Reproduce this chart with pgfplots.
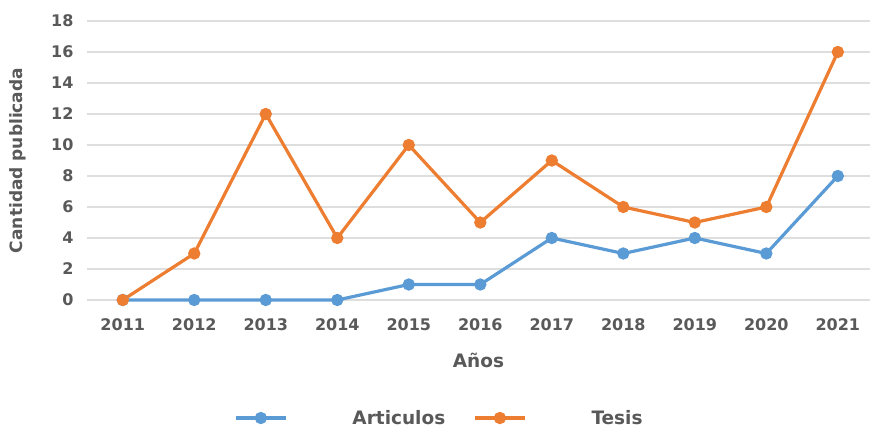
\documentclass[border=0pt]{standalone}
\usepackage{fontspec}
\setmainfont{DejaVu Sans}
\usepackage{pgfplots}
\pgfplotsset{compat=1.18}
\definecolor{tcol}{HTML}{595959}
\definecolor{cblue}{HTML}{5B9BD5}
\definecolor{corange}{HTML}{ED7D31}
\begin{document}
\begin{tikzpicture}
\path[use as bounding box] (0,0) rectangle (870pt,428pt);
\begin{axis}[
  at={(87pt,128pt)}, anchor=south west,
  scale only axis, width=783pt, height=279pt,
  xmin=-0.5, xmax=10.45, ymin=0, ymax=18,
  ytick={0,2,...,18}, xtick={0,...,10},
  xticklabels={2011,2012,2013,2014,2015,2016,2017,2018,2019,2020,2021},
  axis line style={draw=none}, major tick length=0pt,
  ymajorgrids, grid style={color=black!13, line width=1.2pt},
  /pgf/number format/assume math mode=true,
  ticklabel style={font=\fontsize{16}{18}\selectfont\bfseries, text=tcol},
  yticklabel style={xshift=-10pt},
  xticklabel style={yshift=-15pt},
  xlabel={Años}, ylabel={Cantidad publicada},
  label style={font=\fontsize{18.5}{22}\selectfont\bfseries, text=tcol},
  xlabel style={at={(axis description cs:0.5,-0.215)}, anchor=center},
  ylabel style={at={(axis description cs:-0.088,0.5)}, anchor=center, rotate=0, font=\fontsize{17}{20}\selectfont\bfseries},
  clip=false,
  legend columns=2,
  legend style={at={(axis description cs:0.184,-0.423)}, anchor=west, draw=none, fill=none,
    font=\fontsize{18.5}{22}\selectfont\bfseries, text=tcol,
    /tikz/every even column/.append style={column sep=26pt}},
  legend image code/.code={\draw[mark repeat=2,mark phase=2,#1] plot coordinates {(0pt,0pt) (25pt,0pt) (50pt,0pt)}; \path (113pt,0pt);},
]
\addplot[color=cblue, line width=3.2pt, mark=*, mark size=4.5pt] coordinates {
(0,0) (1,0) (2,0) (3,0) (4,1) (5,1) (6,4) (7,3) (8,4) (9,3) (10,8)};
\addlegendentry{Articulos}
\addplot[color=corange, line width=3.2pt, mark=*, mark size=4.5pt] coordinates {
(0,0) (1,3) (2,12) (3,4) (4,10) (5,5) (6,9) (7,6) (8,5) (9,6) (10,16)};
\addlegendentry{Tesis}
\end{axis}
\end{tikzpicture}
\end{document}
